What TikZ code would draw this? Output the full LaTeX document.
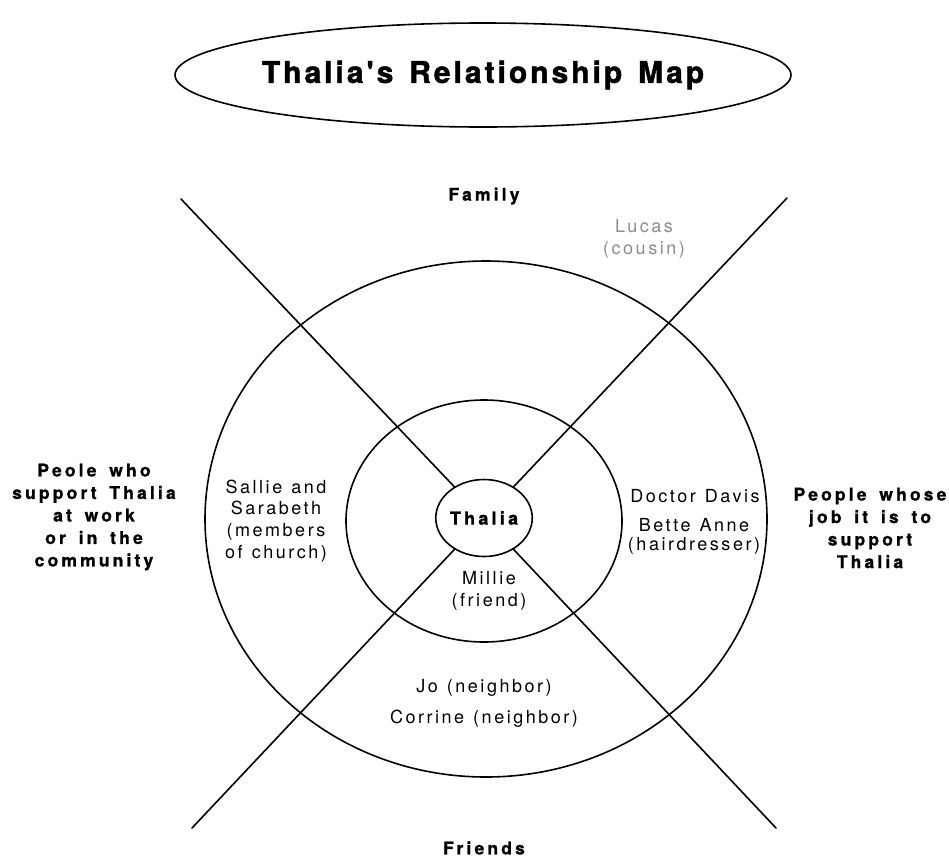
\documentclass[tikz,border=0pt]{standalone}
\usepackage{fontspec}
\usepackage{xcolor}
\usepackage{tikz}
\usetikzlibrary{shapes.geometric}

\setmainfont{TeX Gyre Heros}
\newfontfamily\titlefont[LetterSpace=10, WordSpace=1.4, FakeBold=1.5]{TeX Gyre Heros}
\newfontfamily\headfont[LetterSpace=18, WordSpace=1.6, FakeBold=1]{TeX Gyre Heros}
\newfontfamily\personfont[LetterSpace=14, WordSpace=1.2]{TeX Gyre Heros}

\definecolor{cousingray}{gray}{0.55}

\begin{document}
\begin{tikzpicture}[x=1pt, y=-1pt,
		ring/.style = {line width=1.6pt},
		spoke/.style = {line width=1.6pt, line cap=round},
		sector/.style = {align=center, font=\headfont\fontsize{17.5}{22.5}\selectfont\bfseries},
		person/.style = {align=center, font=\personfont\fontsize{18}{21.7}\selectfont}]
		\useasboundingbox (0,0) rectangle (949,860);
		
		% title
		\node [font=\titlefont\fontsize{30}{30}\selectfont\bfseries] (title) at (483,75) {Thalia's Relationship Map};
		\draw [ring] (title.center) ellipse [x radius=308pt, y radius=52pt];
		
		% rings
		\draw [ring] (486,519) ellipse [x radius=281pt, y radius=258pt];
		\draw [ring] (484,521) ellipse [x radius=138pt, y radius=121pt];
		
		\node [draw, ellipse, ring, fill=white, inner sep=0pt, minimum width=95pt, minimum height=77pt,
			font=\headfont\fontsize{18}{18}\selectfont\bfseries] (thalia) at (484,518) {Thalia};
		
		% spokes
		\coordinate (nw) at (181,199);
		\coordinate (ne) at (787,198);
		\coordinate (sw) at (192,828);
		\coordinate (se) at (776,828);
		\begin{scope}[spoke]
			\draw (nw) -- (thalia);
			\draw (ne) -- (thalia);
			\draw (sw) -- (thalia);
			\draw (se) -- (thalia);
		\end{scope}
		
		% sector headings
		\node [sector] (family) at (484,196) {Family};
		\node [sector] (friends) at (484,848) {Friends};
		\node [sector] (community) at (94,517) {Peole who\\support Thalia\\at work\\or in the\\community};
		\node [sector] (paid) at (870,528) {People whose\\job it is to\\support\\Thalia};
		
		% people
		\node [person, text=cousingray] (lucas) at (644,239) {Lucas\\(cousin)};
		\node [person] (church) at (276,521) {Sallie and\\Sarabeth\\(members\\of church)};
		\node [person] (millie) at (489,591) {Millie\\(friend)};
		\node [person] (doctor) at (695,496) {Doctor Davis};
		\node [person, font=\personfont\fontsize{18}{19}\selectfont] (bette) at (694,536) {Bette Anne\\(hairdresser)};
		\node [person] (jo) at (484,688) {Jo (neighbor)};
		\node [person] (corrine) at (484,719) {Corrine (neighbor)};
	\end{tikzpicture}
\end{document}
